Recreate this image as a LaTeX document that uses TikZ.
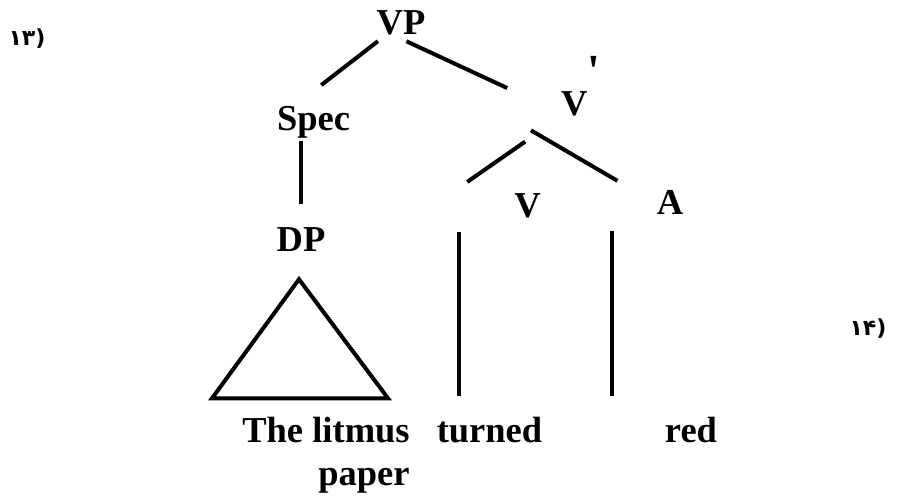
\documentclass[tikz,border=0pt]{standalone}
\usepackage{fontspec}
\setmainfont{Liberation Serif}
\newfontfamily\persianfont{DejaVu Sans}
\usetikzlibrary{calc}

\begin{document}
\begin{tikzpicture}[x=1pt,y=-1pt,
    cat/.style={inner sep=3pt,anchor=base,font=\fontsize{36.5}{43}\selectfont\bfseries},
    branch/.style={line width=4pt},
    exno/.style={inner sep=0pt,font=\fontsize{22}{26}\selectfont\persianfont\bfseries}]
  \useasboundingbox (0,0) rectangle (920,495);

  % example numbers
  \node[exno] (ex13) at (27,39) {۱۳)};
  \node[exno] (ex14) at (868,329) {۱۴)};

  % phrase level
  \node[cat] (vp) at (401,35) {VP};
  \node[cat] (spec) at (313.5,130) {Spec};
  \node[cat,anchor=base west] (vbar) at (558,115) {V\raisebox{29pt}[0pt][0pt]{\fontsize{46}{46}\selectfont\textquotesingle}};
  \node[cat] (dp) at (301,251) {DP};
  \node[cat] (vlow) at (527.5,217) {V};
  \node[cat] (adj) at (670,214) {A};

  % words (base of a two-line node sits on its last line)
  \node[cat,align=right] (litmus) at (326,485) {The litmus\\paper};
  \node[cat] (turned) at (489.5,442) {turned};
  \node[cat] (red) at (691,442) {red};

  % branches
  \draw[branch,shorten <=4pt,shorten >=60pt] (vp) -- (spec.west);
  \draw[branch,shorten <=6pt,shorten >=56pt] (vp.south) -- (vbar.200);
  \draw[branch,shorten <=40pt,shorten >=41pt] (vbar.south west) -- (vlow.west -| turned.west);
  \draw[branch,shorten <=23pt,shorten >=42pt] (vlow.north west |- vbar.south) -- (adj.west);
  \draw[branch,shorten >=20pt] (dp.north |- spec.south) -- (dp.north);

  % stems down to the words
  \coordinate (vstem) at ([xshift=-30.5pt]turned.north);
  \coordinate (astem) at ([xshift=-79pt]red.north);
  \draw[branch,shorten <=17pt,shorten >=11pt] (vstem) -- (vstem |- vlow.south);
  \draw[branch,shorten <=17pt,shorten >=14pt] (astem) -- (astem |- adj.south);

  % triangle over DP
  \draw[branch] ($(dp.south)+(-2,25)$) -- ++(-87,119) -- ++(176,0) -- cycle;
\end{tikzpicture}
\end{document}
